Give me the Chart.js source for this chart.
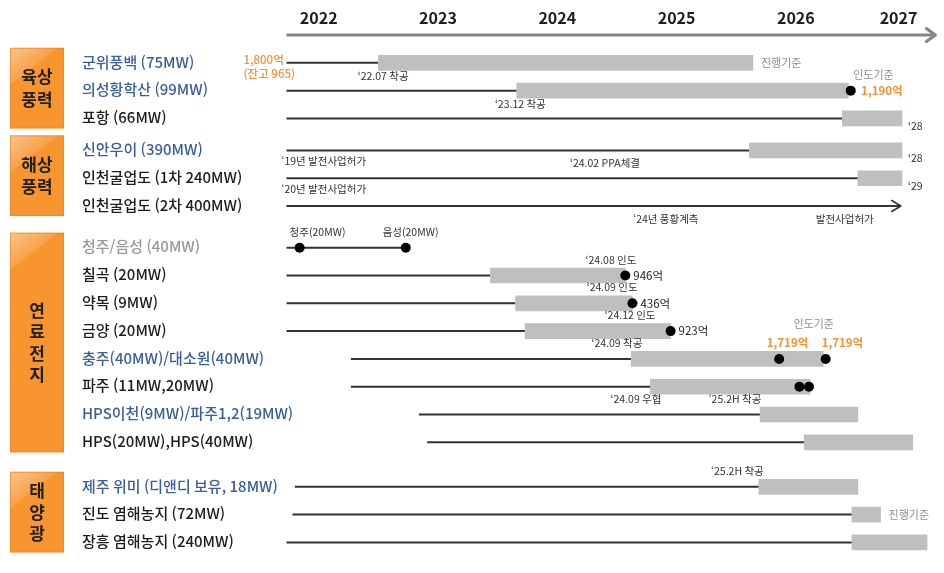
<!DOCTYPE html>
<html lang="ko">
<head>
<meta charset="utf-8">
<title>신재생에너지 사업 추진 일정</title>
<script src="https://cdn.jsdelivr.net/npm/chart.js@4/dist/chart.umd.min.js"></script>
<style>
  html, body { margin: 0; padding: 0; background: #ffffff; }
  #wrap { width: 944px; height: 573px; position: relative; }
</style>
</head>
<body>
<div id="wrap"><canvas id="schedule" width="944" height="573"></canvas></div>
<script>
// ---- data -------------------------------------------------------------
const yearTicks = [2022, 2023, 2024, 2025, 2026, 2027];

const groups = ['육상풍력', '해상풍력', '연료전지', '태양광'];
const groupLabelLines = [['육상', '풍력'], ['해상', '풍력'], ['연', '료', '전', '지'], ['태', '양', '광']];

const projects = [
  '군위풍백 (75MW)',
  '의성황학산 (99MW)',
  '포항 (66MW)',
  '신안우이 (390MW)',
  '인천굴업도 (1차 240MW)',
  '인천굴업도 (2차 400MW)',
  '청주/음성 (40MW)',
  '칠곡 (20MW)',
  '약목 (9MW)',
  '금양 (20MW)',
  '충주(40MW)/대소원(40MW)',
  '파주 (11MW,20MW)',
  'HPS이천(9MW)/파주1,2(19MW)',
  'HPS(20MW),HPS(40MW)',
  '제주 위미 (디앤디 보유, 18MW)',
  '진도 염해농지 (72MW)',
  '장흥 염해농지 (240MW)'
];
const projectGroup = [0, 0, 0, 1, 1, 1, 2, 2, 2, 2, 2, 2, 2, 2, 3, 3, 3];

// timeline values in fractional years
const lineStart = [2021.73, 2021.73, 2021.73, 2021.73, 2021.73, 2021.73, 2021.73, 2021.73, 2021.73, 2021.73,
                   2022.27, 2022.27, 2022.84, 2022.91, 2021.80, 2021.78, 2021.73];
const lineEnd   = [2022.50, 2023.66, 2026.39, 2025.61, 2026.52, 2026.88, 2022.73, 2023.44, 2023.65, 2023.73,
                   2024.62, 2024.78, 2025.70, 2026.07, 2025.69, 2026.47, 2026.47];
const barStart  = [2022.50, 2023.66, 2026.39, 2025.61, 2026.52, null, null, 2023.44, 2023.65, 2023.73,
                   2024.62, 2024.78, 2025.70, 2026.07, 2025.69, 2026.47, 2026.47];
const barEnd    = [2025.64, 2026.44, 2026.89, 2026.89, 2026.89, null, null, 2024.57, 2024.63, 2024.95,
                   2026.23, 2026.12, 2026.52, 2026.98, 2026.52, 2026.71, 2027.10];
const milestones = [[], [2026.46], [], [], [], [], [2021.84, 2022.73], [2024.57], [2024.63], [2024.95],
                    [2025.86, 2026.25], [2026.03, 2026.11], [], [], [], [], []];

// text notes attached to a row at a date
const notes = [
  { row: 0,  x: 2021.73, text: '1,800억\n(잔고 965)', kind: 'orangeLight', place: 'farLeft' },
  { row: 0,  x: 2022.54, text: '\u201822.07 착공', kind: 'note', place: 'below' },
  { row: 0,  x: 2025.64, text: '진행기준', kind: 'gray', place: 'right' },
  { row: 1,  x: 2023.69, text: '\u201823.12 착공', kind: 'note', place: 'below' },
  { row: 1,  x: 2026.65, text: '인도기준', kind: 'gray', place: 'above' },
  { row: 1,  x: 2026.48, text: '1,190억', kind: 'orange', place: 'right' },
  { row: 2,  x: 2026.89, text: '\u201828', kind: 'note', place: 'corner' },
  { row: 3,  x: 2021.73, text: '\u201819년 발전사업허가', kind: 'note', place: 'belowLeft' },
  { row: 3,  x: 2024.40, text: '\u201824.02 PPA체결', kind: 'note', place: 'below' },
  { row: 3,  x: 2026.89, text: '\u201828', kind: 'note', place: 'corner' },
  { row: 4,  x: 2021.73, text: '\u201820년 발전사업허가', kind: 'note', place: 'belowLeft' },
  { row: 4,  x: 2026.89, text: '\u201829', kind: 'note', place: 'corner' },
  { row: 5,  x: 2024.91, text: '\u201824년 풍황계측', kind: 'note', place: 'below' },
  { row: 5,  x: 2026.41, text: '발전사업허가', kind: 'note', place: 'below' },
  { row: 6,  x: 2021.99, text: '청주(20MW)', kind: 'note', place: 'above' },
  { row: 6,  x: 2022.77, text: '음성(20MW)', kind: 'note', place: 'above' },
  { row: 7,  x: 2024.45, text: '\u201824.08 인도', kind: 'note', place: 'above' },
  { row: 7,  x: 2024.57, text: '946억', kind: 'amount', place: 'right' },
  { row: 8,  x: 2024.46, text: '\u201824.09 인도', kind: 'note', place: 'above' },
  { row: 8,  x: 2024.63, text: '436억', kind: 'amount', place: 'right' },
  { row: 9,  x: 2024.61, text: '\u201824.12 인도', kind: 'note', place: 'above' },
  { row: 9,  x: 2024.95, text: '923억', kind: 'amount', place: 'right' },
  { row: 10, x: 2024.50, text: '\u201824.09 착공', kind: 'note', place: 'above' },
  { row: 10, x: 2026.15, text: '인도기준', kind: 'gray', place: 'above2' },
  { row: 10, x: 2025.93, text: '1,719억', kind: 'orange', place: 'above' },
  { row: 10, x: 2026.39, text: '1,719억', kind: 'orange', place: 'above' },
  { row: 12, x: 2024.66, text: '\u201824.09 우협', kind: 'note', place: 'above' },
  { row: 12, x: 2025.49, text: '\u201825.2H 착공', kind: 'note', place: 'above' },
  { row: 14, x: 2025.51, text: '\u201825.2H 착공', kind: 'note', place: 'above' },
  { row: 15, x: 2026.71, text: '진행기준', kind: 'gray', place: 'right' }
];

// ---- styling ------------------------------------------------------------
const FONT = '"Noto Sans CJK KR", "Noto Sans", sans-serif';
const labelTone = ['blue', 'blue', 'dark', 'blue', 'dark', 'dark', 'gray', 'dark', 'dark', 'dark',
                   'blue', 'dark', 'blue', 'dark', 'blue', 'dark', 'dark'];
const TONE = { blue: '#3b5f98', dark: '#1e1e1e', gray: '#9a9a9a' };
const NOTE_STYLE = {
  note:        { color: '#333333', font: '400 10.5px ' + FONT },
  amount:      { color: '#222222', font: '400 11.5px ' + FONT },
  gray:        { color: '#8e8e8e', font: '400 11px ' + FONT },
  orange:      { color: '#f39233', font: '600 11.5px ' + FONT },
  orangeLight: { color: '#f39233', font: '500 11.5px ' + FONT }
};
const GROUP_GAP = [0, 0.15, 0.5, 0.6];

// vertical slot of every row: one unit per row plus a gap between groups
const slots = projects.map((_, i) => {
  let gap = 0;
  for (let g = 0; g <= projectGroup[i]; g++) gap += GROUP_GAP[g];
  return i + gap;
});

// ---- datasets -----------------------------------------------------------
const barData = [];
const lineData = [];
const dotData = [];
projects.forEach((_, i) => {
  if (barStart[i] !== null) barData.push({ x: [barStart[i], barEnd[i]], y: slots[i] });
  lineData.push({ x: lineStart[i], y: slots[i] }, { x: lineEnd[i], y: slots[i] }, { x: lineEnd[i], y: null });
  milestones[i].forEach(v => dotData.push({ x: v, y: slots[i] }));
});

// ---- drawing helpers ----------------------------------------------------
function chevron(ctx, x, y, w, h, color, lw) {
  ctx.save();
  ctx.strokeStyle = color;
  ctx.lineWidth = lw;
  ctx.lineCap = 'round';
  ctx.lineJoin = 'round';
  ctx.beginPath();
  ctx.moveTo(x - w, y - h);
  ctx.lineTo(x, y);
  ctx.lineTo(x - w, y + h);
  ctx.stroke();
  ctx.restore();
}

const scheduleDecor = {
  id: 'scheduleDecor',
  beforeDatasetsDraw(chart) {
    const { ctx, scales: { x, y } } = chart;
    ctx.save();

    // time axis with arrow
    const axisY = 35;
    const ax0 = x.getPixelForValue(2021.73);
    const ax1 = x.getPixelForValue(2027.17);
    ctx.strokeStyle = '#858585';
    ctx.lineWidth = 3;
    ctx.beginPath();
    ctx.moveTo(ax0, axisY);
    ctx.lineTo(ax1 - 1, axisY);
    ctx.stroke();
    chevron(ctx, ax1, axisY, 9, 6.5, '#858585', 3);

    // year labels
    ctx.font = '600 16px ' + FONT;
    ctx.fillStyle = '#1e1e1e';
    ctx.textAlign = 'center';
    ctx.textBaseline = 'middle';
    yearTicks.forEach(yr => {
      const w = ctx.measureText(String(yr)).width;
      const px = Math.min(x.getPixelForValue(yr), ax1 - 18 - w / 2);
      ctx.fillText(String(yr), px, 18);
    });

    // group boxes
    groups.forEach((g, gi) => {
      const rows = projectGroup.map((v, i) => v === gi ? i : -1).filter(i => i >= 0);
      const top = y.getPixelForValue(slots[rows[0]]) - 15;
      const bottom = y.getPixelForValue(slots[rows[rows.length - 1]]) + 10;
      const bx = 10, bw = 54, bh = bottom - top;
      ctx.fillStyle = '#f7952f';
      ctx.fillRect(bx, top, bw, bh);
      const sheen = ctx.createLinearGradient(bx, top, bx + bw * 0.6, top + Math.min(bh, 60) * 0.7);
      sheen.addColorStop(0, 'rgba(255,255,255,0.45)');
      sheen.addColorStop(0.55, 'rgba(255,255,255,0.12)');
      sheen.addColorStop(0.56, 'rgba(255,255,255,0)');
      sheen.addColorStop(1, 'rgba(255,255,255,0)');
      ctx.fillStyle = sheen;
      ctx.fillRect(bx, top, bw, bh);
      ctx.strokeStyle = 'rgba(230,130,30,0.6)';
      ctx.lineWidth = 1;
      ctx.strokeRect(bx + 0.5, top + 0.5, bw - 1, bh - 1);

      const lines = groupLabelLines[gi];
      const step = lines.length > 2 ? 21.5 : 22.5;
      const cy = (top + bottom) / 2;
      ctx.font = '700 17px ' + FONT;
      ctx.fillStyle = '#1e1e1e';
      ctx.textAlign = 'center';
      lines.forEach((t, k) => {
        ctx.fillText(t, bx + bw / 2, cy + (k - (lines.length - 1) / 2) * step);
      });
    });

    // project names
    ctx.font = '500 15px ' + FONT;
    ctx.textAlign = 'left';
    projects.forEach((p, i) => {
      ctx.fillStyle = TONE[labelTone[i]];
      ctx.fillText(p, 82, y.getPixelForValue(slots[i]) - 1);
    });
    ctx.restore();
  },
  afterDatasetsDraw(chart) {
    const { ctx, scales: { x, y } } = chart;
    ctx.save();

    // open-ended rows finish with an arrow head
    projects.forEach((_, i) => {
      if (barStart[i] === null && milestones[i].length === 0) {
        chevron(ctx, x.getPixelForValue(lineEnd[i]), y.getPixelForValue(slots[i]), 9, 5.5, '#333333', 1.6);
      }
    });

    // notes
    ctx.textBaseline = 'middle';
    notes.forEach(n => {
      const st = NOTE_STYLE[n.kind];
      ctx.font = st.font;
      ctx.fillStyle = st.color;
      const px = x.getPixelForValue(n.x);
      const py = y.getPixelForValue(slots[n.row]);
      const lines = n.text.split('\n');
      let tx = px, ty = py;
      switch (n.place) {
        case 'below':     ctx.textAlign = 'center'; ty = py + 13; break;
        case 'belowLeft': ctx.textAlign = 'left';   tx = px - 5; ty = py + 11; break;
        case 'above':     ctx.textAlign = 'center'; ty = py - 16; break;
        case 'above2':    ctx.textAlign = 'center'; ty = py - 35; break;
        case 'right':     ctx.textAlign = 'left';   tx = px + 8; break;
        case 'corner':    ctx.textAlign = 'left';   tx = px + 6; ty = py + 8; break;
        case 'farLeft':   ctx.textAlign = 'left';   tx = px - 43; ty = py + 4; break;
      }
      const lh = 14;
      lines.forEach((t, k) => {
        ctx.fillText(t, tx, ty + (k - (lines.length - 1) / 2) * lh);
      });
    });
    ctx.restore();
  }
};

// ---- chart --------------------------------------------------------------
new Chart(document.getElementById('schedule').getContext('2d'), {
  data: {
    datasets: [
      {
        type: 'scatter',
        label: '인도/준공',
        data: dotData,
        pointRadius: 5,
        pointHoverRadius: 5,
        pointBackgroundColor: '#000000',
        pointBorderWidth: 0,
        order: 0
      },
      {
        type: 'bar',
        label: '공사 기간',
        indexAxis: 'y',
        data: barData,
        backgroundColor: '#bfbfbf',
        borderWidth: 0,
        barThickness: 15,
        order: 1
      },
      {
        type: 'line',
        label: '추진 경과',
        data: lineData,
        borderColor: '#333333',
        borderWidth: 2,
        pointRadius: 0,
        spanGaps: false,
        tension: 0,
        order: 2
      }
    ]
  },
  options: {
    responsive: false,
    devicePixelRatio: 1,
    animation: false,
    layout: { padding: 0 },
    scales: {
      x: { type: 'linear', min: 2019.37, max: 2027.2, offset: false, grid: { offset: false }, display: false },
      y: { type: 'linear', min: -2.08, max: 18.17, reverse: true, offset: false, grid: { offset: false }, display: false }
    },
    plugins: {
      legend: { display: false },
      tooltip: { enabled: false }
    }
  },
  plugins: [scheduleDecor]
});
</script>
</body>
</html>
